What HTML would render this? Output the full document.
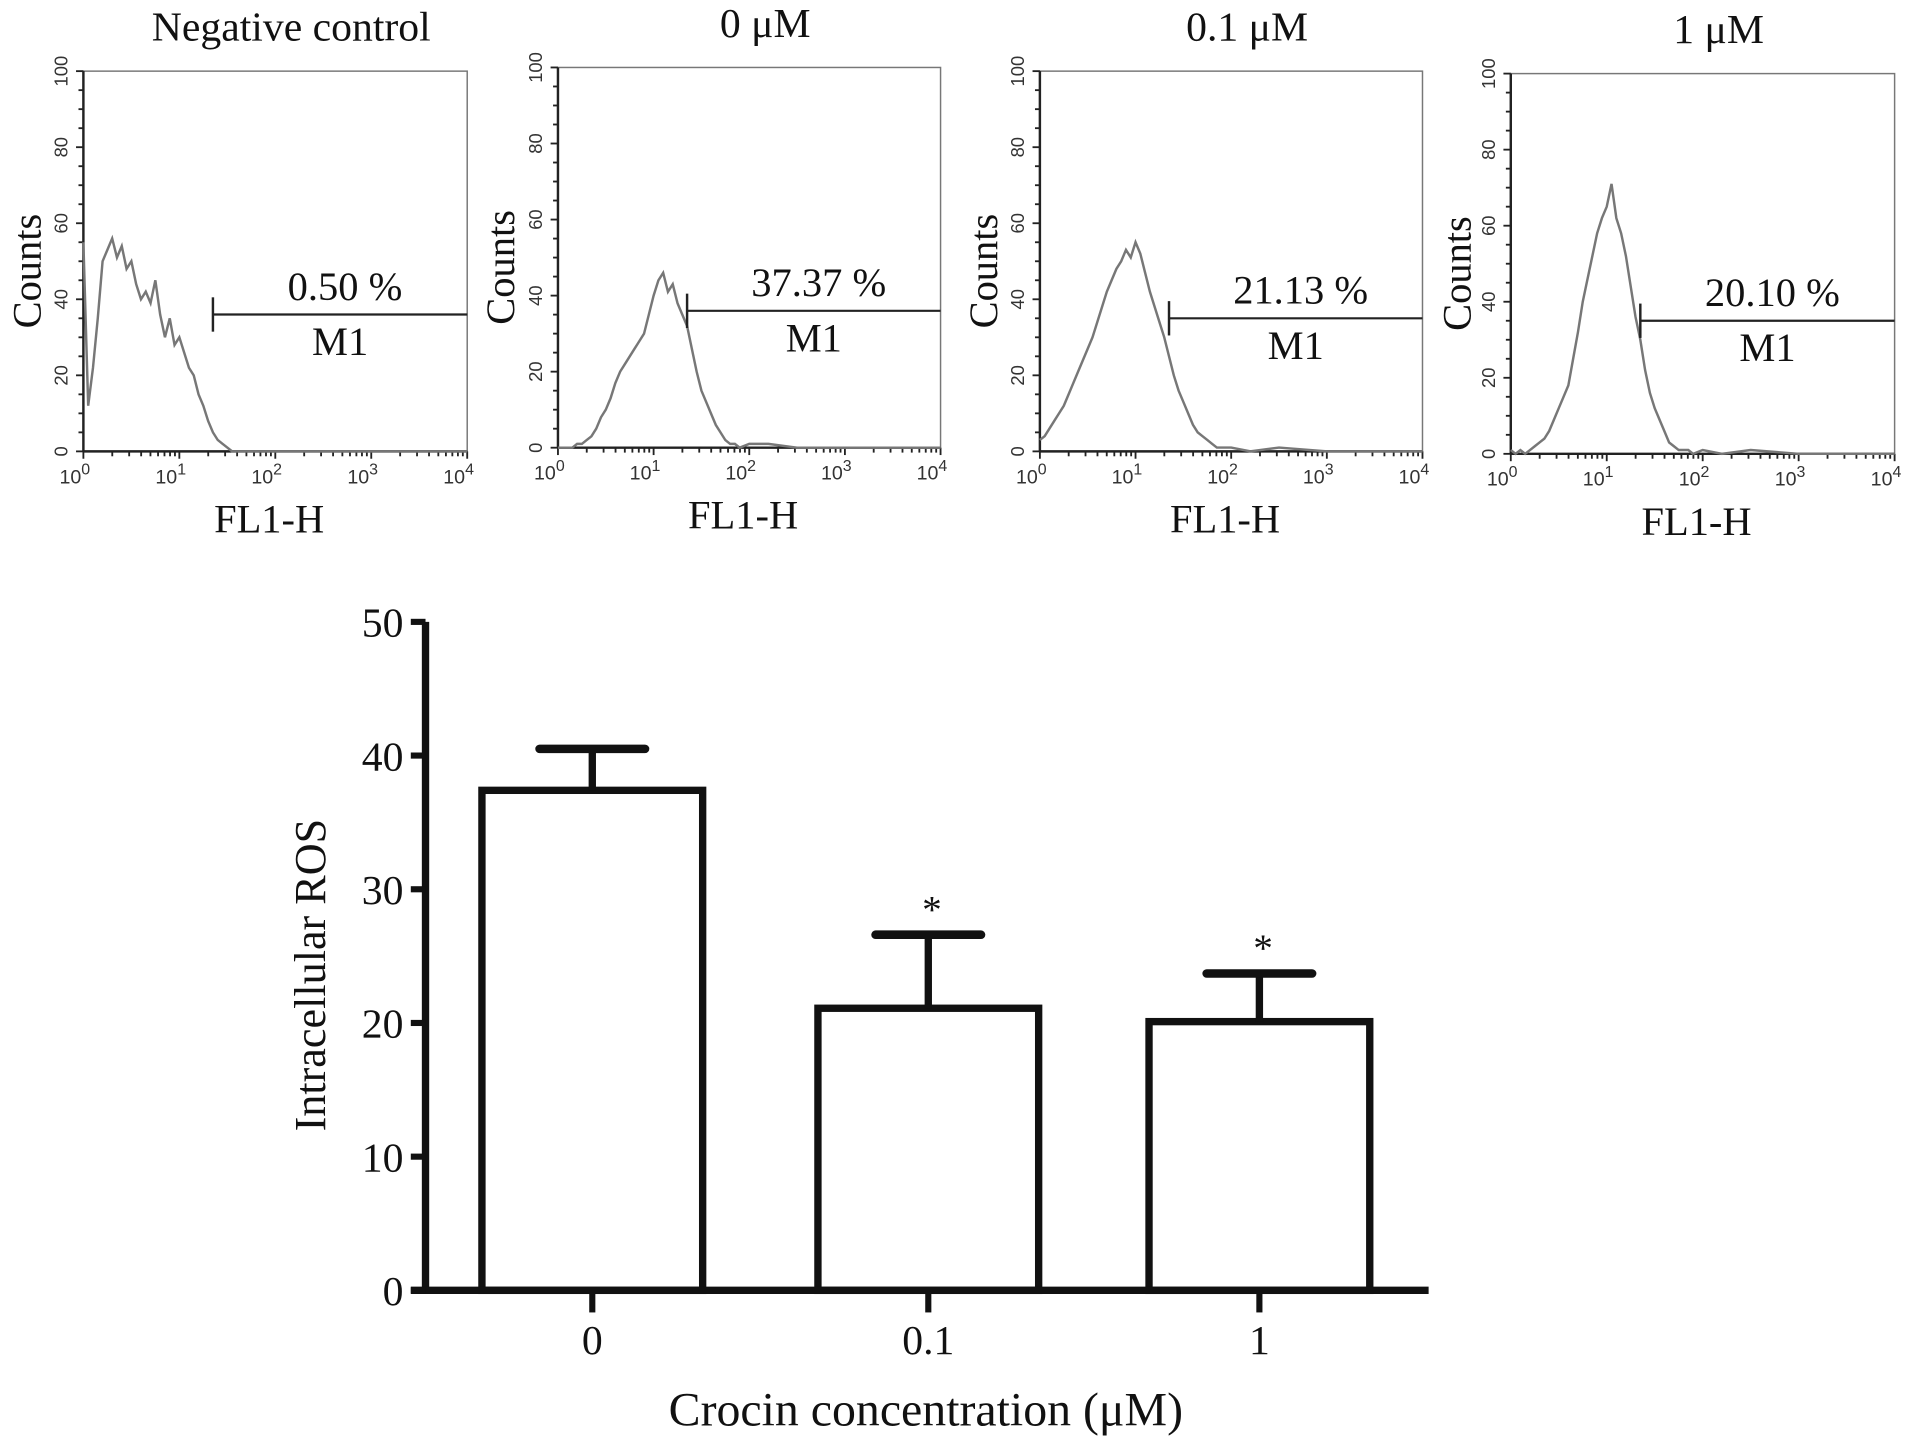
<!DOCTYPE html>
<html><head><meta charset="utf-8"><style>
html,body{margin:0;padding:0;background:#fff;}
svg{display:block;}
text{font-family:"Liberation Serif",serif;fill:#111;}
.s{font-family:"Liberation Sans",sans-serif;fill:#333;}
</style></head><body>
<svg id="fig" width="1913" height="1440" viewBox="0 0 1560 1174" preserveAspectRatio="none" xmlns="http://www.w3.org/2000/svg"></svg>
<script>
// ---- histogram data (x in log10 decades, counts) ----
const histX = [0,0.05,0.1,0.15,0.2,0.25,0.3,0.35,0.4,0.45,0.5,0.55,0.6,0.65,0.7,0.75,0.8,0.85,0.9,0.95,1.0,1.05,1.1,1.15,1.2,1.25,1.3,1.35,1.4,1.45,1.5,1.55,1.6,1.65,1.7,1.75,1.8,1.85,1.9,2.0,2.2,2.5,3.0,3.5,4.0];
const histNeg = [55,12,22,35,50,53,56,51,54,48,50,44,40,42,39,45,36,30,35,28,30,26,22,20,15,12,8,5,3,2,1,0,0,0,0,0,0,0,0,0,0,0,0,0,0];
const hist0 = [0,0,0,0,1,1,2,3,5,8,10,13,17,20,22,24,26,28,30,35,40,44,46,41,43,38,35,32,26,20,15,12,9,6,4,2,1,1,0,1,1,0,0,0,0];
const hist01 = [3,4,6,8,10,12,15,18,21,24,27,30,34,38,42,45,48,50,53,51,55,52,47,42,38,34,30,25,20,16,13,10,7,5,4,3,2,1,1,1,0,1,0,0,0];
const hist1 = [1,0,1,0,1,2,3,4,6,9,12,15,18,25,32,40,46,52,58,62,65,71,62,58,52,44,36,30,22,16,12,9,6,3,2,1,1,1,0,1,0,1,0,0,0];
const panelTitles = ["Negative control","0 μM","0.1 μM","1 μM"];
const panelPcts = ["0.50 %","37.37 %","21.13 %","20.10 %"];
const gateDecade = [1.35,1.35,1.35,1.35];
const gateCount = [36,36,35,35];
const countTicks = [0,20,40,60,80,100];
// ---- bar chart data ----
const barCats = ["0","0.1","1"];
const barVals = [37.4,21.1,20.1];
const barErr = [3.1,5.5,3.6];
const barSig = [false,true,true];
const barTicks = [0,10,20,30,40,50];

const NS="http://www.w3.org/2000/svg";
const svg=document.getElementById('fig');
function mk(tag,attrs,parent,txt){const e=document.createElementNS(NS,tag);for(const k in attrs)e.setAttribute(k,attrs[k]);if(txt!==undefined)e.textContent=txt;(parent||svg).appendChild(e);return e;}

const panels=[{x0:68,x1:381,y0:368,y1:58,counts:histNeg,cx:22},{x0:455,x1:767,y0:365,y1:55,counts:hist0,cx:408},{x0:848,x1:1160,y0:368,y1:58,counts:hist01,cx:802},{x0:1232,x1:1545,y0:370,y1:60,counts:hist1,cx:1188}];
panels.forEach((p,i)=>{
  const g=mk('g',{});
  
  
  const sx=d=>p.x0+(p.x1-p.x0)*d/4, sy=c=>p.y0-(p.y0-p.y1)*c/100;
  const box=mk('rect',{x:p.x0,y:p.y1,width:p.x1-p.x0,height:p.y0-p.y1,fill:'none',stroke:'#777','stroke-width':1.2},g);
  
  mk('line',{x1:p.x0,y1:p.y1,x2:p.x0,y2:p.y0,stroke:'#222','stroke-width':2},g);
  mk('line',{x1:p.x0,y1:p.y0,x2:p.x1,y2:p.y0,stroke:'#222','stroke-width':2},g);
  for(let c=0;c<=100;c+=5){const y=sy(c);mk('line',{x1:p.x0-(c%20==0?6:4),y1:y,x2:p.x0,y2:y,stroke:'#222','stroke-width':1.5},g);}
  countTicks.forEach(c=>{const t=mk('text',{x:p.x0-13,y:sy(c),class:'s','font-size':15,'text-anchor':'middle',transform:`rotate(-90 ${p.x0-13} ${sy(c)})`},g,String(c));});
  for(let d=0;d<4;d++){for(let m=1;m<10;m++){const x=sx(d+Math.log10(m));mk('line',{x1:x,y1:p.y0,x2:x,y2:p.y0+(m==1?6:4),stroke:'#222','stroke-width':1.5},g);}
  }
  mk('line',{x1:sx(4),y1:p.y0,x2:sx(4),y2:p.y0+6,stroke:'#222','stroke-width':1.5},g);
  for(let d=0;d<=4;d++){const t=mk('text',{x:sx(d)-7,y:p.y0+26,class:'s','font-size':16,'text-anchor':'middle'},g);t.textContent='10';mk('tspan',{dy:-7,'font-size':13},t,String(d));}
  const pts=p.counts.map((c,k)=>`${sx(histX[k])},${sy(c)}`).join(' ');
  const h=mk('polyline',{points:pts,fill:'none',stroke:'#777','stroke-width':2},g);
  
  const gx=sx(gateDecade[i]),gy=sy(gateCount[i]);
  mk('line',{x1:gx,y1:gy-14,x2:gx,y2:gy+14,stroke:'#222','stroke-width':2},g);
  const gl=mk('line',{x1:gx,y1:gy,x2:p.x1,y2:gy,stroke:'#222','stroke-width':1.8},g);
  
  const mid=(gx+p.x1)/2;
  const pt=mk('text',{x:mid+4,y:gy-12,'font-size':33,'text-anchor':'middle'},g,panelPcts[i]);
  
  const ml=mk('text',{x:mid,y:gy+33,'font-size':33,'text-anchor':'middle'},g,'M1');
  
  const tt=mk('text',{x:(p.x0+p.x1)/2+13,y:p.y1-25,'font-size':34,'text-anchor':'middle'},g,panelTitles[i]);
  
  const cy=(p.y0+p.y1)/2+8;
  const ct=mk('text',{x:p.cx+11,y:cy,'font-size':33,'text-anchor':'middle',transform:`rotate(-90 ${p.cx+11} ${cy})`},g,'Counts');
  
  const ft=mk('text',{x:(p.x0+p.x1)/2-5,y:p.y0+66,'font-size':33,'text-anchor':'middle'},g,'FL1-H');
  
});

// ---- bar chart ----
const B={ax:347,y0:1052,y1:507,xl:335,xr:1165};
const by=v=>B.y0-(B.y0-B.y1)*v/50;
const catX=[483,757,1027];
const bw=180;
const bg=mk('g',{});

barVals.forEach((v,i)=>{
  const cx=catX[i];
  const r=mk('rect',{x:cx-bw/2,y:by(v),width:bw,height:B.y0-by(v),fill:'#fff',stroke:'#111','stroke-width':6},bg);
  
  const top=by(v+barErr[i]);
  mk('line',{x1:cx,y1:by(v),x2:cx,y2:top,stroke:'#111','stroke-width':6},bg);
  const e=mk('line',{x1:cx-43,y1:top,x2:cx+43,y2:top,stroke:'#111','stroke-width':7,'stroke-linecap':'round'},bg);
  
  if(barSig[i]){const s=mk('text',{x:cx+3,y:top-10,'font-size':32,'text-anchor':'middle'},bg,'*');}
  mk('line',{x1:cx,y1:B.y0,x2:cx,y2:B.y0+18,stroke:'#111','stroke-width':5},bg);
  const l=mk('text',{x:cx,y:B.y0+52,'font-size':34,'text-anchor':'middle'},bg,barCats[i]);
  
});
mk('line',{x1:B.ax,y1:B.y1,x2:B.ax,y2:B.y0+3,stroke:'#111','stroke-width':6},bg);
mk('line',{x1:B.xl,y1:B.y0,x2:B.xr,y2:B.y0,stroke:'#111','stroke-width':6},bg);
barTicks.forEach(t=>{mk('line',{x1:B.xl,y1:by(t),x2:B.ax,y2:by(t),stroke:'#111','stroke-width':5},bg);
  const l=mk('text',{x:B.xl-6,y:by(t)+12,'font-size':34,'text-anchor':'end'},bg,String(t));
  });
const yt=mk('text',{x:265,y:795,'font-size':36,'text-anchor':'middle',transform:'rotate(-90 265 795)'},bg,'Intracellular ROS');

const xt=mk('text',{x:755,y:1162,'font-size':39,'text-anchor':'middle'},bg,'Crocin concentration (μM)');

</script>
</body></html>
